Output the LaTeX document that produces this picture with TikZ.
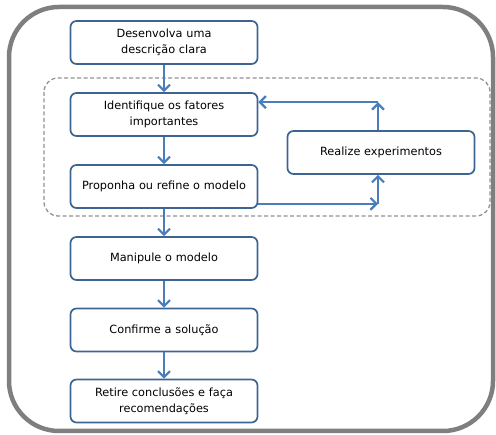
\documentclass[tikz,border=0pt]{standalone}
\usepackage{fontspec}
\setmainfont{DejaVu Sans}
\usetikzlibrary{arrows.meta,positioning}

\definecolor{boxblue}{HTML}{3D6593}
\definecolor{arrowblue}{HTML}{4A7EBB}
\definecolor{framegray}{HTML}{7F7F7F}

\tikzstyle{stepbox} = [draw=boxblue, line width=1.7pt, rounded corners=6pt,%
                       text centered, text width = 187pt, inner sep=0pt, minimum height = 43pt, anchor=center,%
                       font=\fontsize{11.3}{15.5}\selectfont]
\tikzstyle{flow} = [draw=arrowblue, line width=2.4pt, -{Straight Barb[length=6pt,width=12pt,line width=2.2pt]}]

\begin{document}
\begin{tikzpicture}[x=1pt, y=1pt, node distance = 72pt]

	\useasboundingbox (0,0) rectangle (496,-435);

	% moldura externa e grupo tracejado
	\draw[draw=framegray, line width=4.5pt, rounded corners=50pt] (9,-7) rectangle (493,-431);
	\draw[draw=framegray!85, line width=1.3pt, dash pattern=on 4pt off 2.5pt, rounded corners=14pt] (44,-78) rectangle (490,-216);

	\node (Descricao)    [stepbox] at (164,-42.5) {Desenvolva uma\\descrição clara};
	\node (Fatores)      [stepbox, below of = Descricao] {Identifique os fatores\\importantes};
	\node (Modelo)       [stepbox, below of = Fatores] {Proponha ou refine o modelo};
	\node (Manipula)     [stepbox, below of = Modelo] {Manipule o modelo};
	\node (Confirma)     [stepbox, below of = Manipula, node distance = 71.5pt] {Confirme a solução};
	\node (Conclui)      [stepbox, below of = Confirma, node distance = 71pt] {Retire conclusões e faça\\recomendações};
	\node (Experimentos) [stepbox] at (381,-152.5) {Realize experimentos};

	\coordinate (baixo) at ([xshift=-3pt, yshift=5pt]Experimentos.south |- Modelo.south);
	\coordinate (cima)  at ([xshift=-3pt, yshift=-10pt]Experimentos.north |- Fatores.north);

	\draw[flow] (Descricao) -- (Fatores);
	\draw[flow] (Fatores) -- (Modelo);
	\draw[flow] (Modelo) -- (Manipula);
	\draw[flow] (Manipula) -- (Confirma);
	\draw[flow] (Confirma) -- (Conclui);

	\draw[flow] (Modelo.east |- baixo) -- (baixo);
	\draw[flow] (baixo) -- (baixo |- Experimentos.south);
	\draw[flow] (cima |- Experimentos.north) -- (cima);
	\draw[flow] (cima) -- (Fatores.east |- cima);
\end{tikzpicture}
\end{document}
